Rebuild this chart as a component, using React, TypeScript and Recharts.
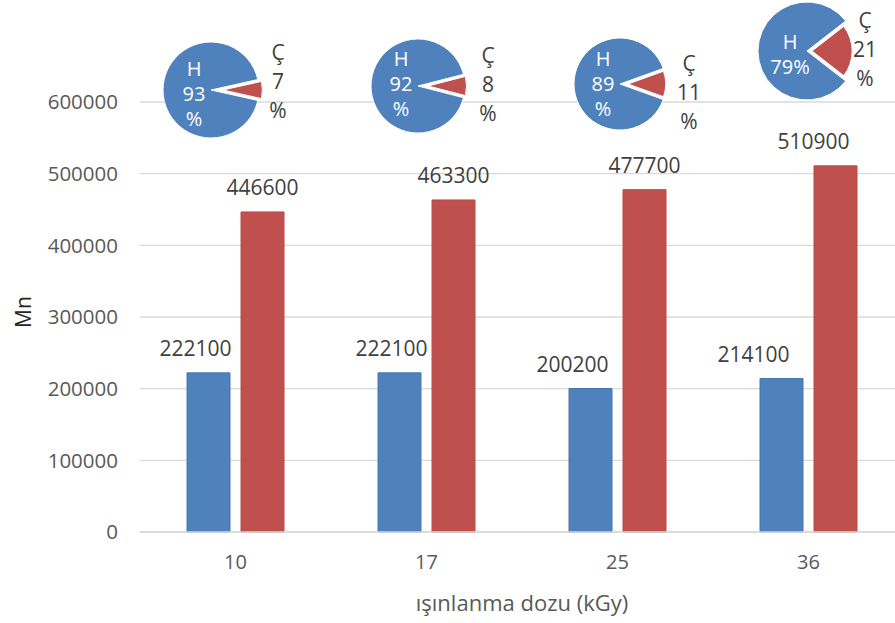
import { BarChart, Bar, XAxis, YAxis, CartesianGrid, LabelList, PieChart, Pie, Cell } from 'recharts';

const doses = ['10', '17', '25', '36'];
const mnH = [222100, 222100, 200200, 214100];
const mnC = [446600, 463300, 477700, 510900];
const shareH = [93, 92, 89, 79];
const shareC = [7, 8, 11, 21];
const yTicks = [0, 100000, 200000, 300000, 400000, 500000, 600000];

const BLUE = '#4F81BD';
const RED = '#C0504D';
const GRID = '#D9D9D9';
const FONT = '"Open Sans", sans-serif';

const barData = doses.map((dose, i) => ({ dose, h: mnH[i], c: mnC[i] }));

// value labels are nudged sideways so they don't run into the neighbouring bar
const hLabelShift = [-13, -8, -18, -28];
const cLabelShift = [0, 0, 0, -22];

// small share pies sitting above each group
const pieLayout = [
  { x: 211, y: 90, r: 48, explode: 12, hTop: -22, cX: 67, cTop: -38, split: true },
  { x: 418, y: 86, r: 47, explode: 10, hTop: -28, cX: 70, cTop: -31, split: true },
  { x: 620, y: 84, r: 46, explode: 8, hTop: -26, cX: 69, cTop: -21, split: true },
  { x: 807, y: 51, r: 49, explode: 5, hTop: -10, cX: 58, cTop: -31, split: false },
];

const PIE_W = 170;
const PIE_H = 130;
const OX = 60;
const OY = 65;

function SharePie({ idx }: { idx: number }) {
  const L = pieLayout[idx];
  const data = [
    { name: 'Ç', value: shareC[idx] },
    { name: 'H', value: shareH[idx] },
  ];
  const half = shareC[idx] * 1.8;
  const hLines = L.split ? ['H', `${shareH[idx]}`, '%'] : ['H', `${shareH[idx]}%`];
  const cLines = ['Ç', `${shareC[idx]}`, '%'];

  const renderLabel = (p: any) => {
    if (p.index === 1) {
      return (
        <g>
          {hLines.map((t, i) => (
            <text key={i} x={OX - 17} y={OY + L.hTop + i * 25} textAnchor="middle" dominantBaseline="central"
              fill="#fff" fontSize={20} fontFamily={FONT}>{t}</text>
          ))}
        </g>
      );
    }
    return (
      <g>
        {cLines.map((t, i) => (
          <text key={i} x={OX + L.cX} y={OY + L.cTop + i * 29} textAnchor="middle" dominantBaseline="central"
            fill="#404040" fontSize={21} fontFamily={FONT}>{t}</text>
        ))}
      </g>
    );
  };

  return (
    <div style={{ position: 'absolute', left: L.x - OX, top: L.y - OY, width: PIE_W, height: PIE_H }}>
      <PieChart width={PIE_W} height={PIE_H} margin={{ top: 0, right: 0, bottom: 0, left: 0 }}>
        <Pie data={data} dataKey="value" cx={OX} cy={OY} outerRadius={L.r}
          startAngle={-half} endAngle={360 - half} isAnimationActive={false}
          label={renderLabel} labelLine={false}>
          <Cell fill="none" stroke="none" />
          <Cell fill={BLUE} stroke="#fff" strokeWidth={1} />
        </Pie>
        <Pie data={data} dataKey="value" cx={OX + L.explode} cy={OY} outerRadius={L.r * 0.82}
          startAngle={-half} endAngle={360 - half} isAnimationActive={false}>
          <Cell fill={RED} stroke="#fff" strokeWidth={1} />
          <Cell fill="none" stroke="none" />
        </Pie>
      </PieChart>
    </div>
  );
}

const valueLabel = (shift: number[]) => (p: any) => {
  const { x, y, width, value, index } = p;
  return (
    <text x={x + width / 2 + shift[index]} y={y - 17} textAnchor="middle" fill="#404040"
      fontSize={21} fontFamily={FONT}>{value}</text>
  );
};

export default function App() {
  return (
    <div style={{ position: 'absolute', left: 0, top: 0, width: 895, height: 623, overflow: 'hidden', background: '#fff' }}>
      <BarChart width={910} height={623} data={barData}
        margin={{ top: 102, right: 6, left: 0, bottom: 31 }} barSize={43} barGap={11}>
        <CartesianGrid horizontal vertical={false} stroke={GRID} strokeWidth={1.3} />
        <XAxis dataKey="dose" height={60} tickLine={false} axisLine={{ stroke: GRID, strokeWidth: 1.3 }}
          tickSize={0} tickMargin={23}
          tick={{ fill: '#595959', fontSize: 20, fontFamily: FONT }}
          label={(p: any) => {
            const vb = p.viewBox;
            return (
              <text x={vb.x + vb.width / 2} y={vb.y + 79} textAnchor="middle" fill="#595959"
                fontSize={22} fontFamily={FONT}>ışınlanma dozu (kGy)</text>
            );
          }} />
        <YAxis width={140} domain={[0, 600000]} ticks={yTicks}
          tickLine={false} axisLine={false} tickSize={0} tickMargin={22}
          tick={{ fill: '#595959', fontSize: 20.5, fontFamily: FONT }}
          label={() => (
            <text x={23} y={312} transform="rotate(-90, 23, 312)" textAnchor="middle" dominantBaseline="central"
              fill="#262626" fontSize={21} fontFamily={FONT}>Mn</text>
          )} />
        <Bar dataKey="h" fill={BLUE} stroke="#4677B3" strokeWidth={1} isAnimationActive={false}>
          <LabelList dataKey="h" content={valueLabel(hLabelShift)} />
        </Bar>
        <Bar dataKey="c" fill={RED} stroke="#B84A47" strokeWidth={1} isAnimationActive={false}>
          <LabelList dataKey="c" content={valueLabel(cLabelShift)} />
        </Bar>
      </BarChart>
      {pieLayout.map((_, i) => (
        <SharePie key={i} idx={i} />
      ))}
    </div>
  );
}
